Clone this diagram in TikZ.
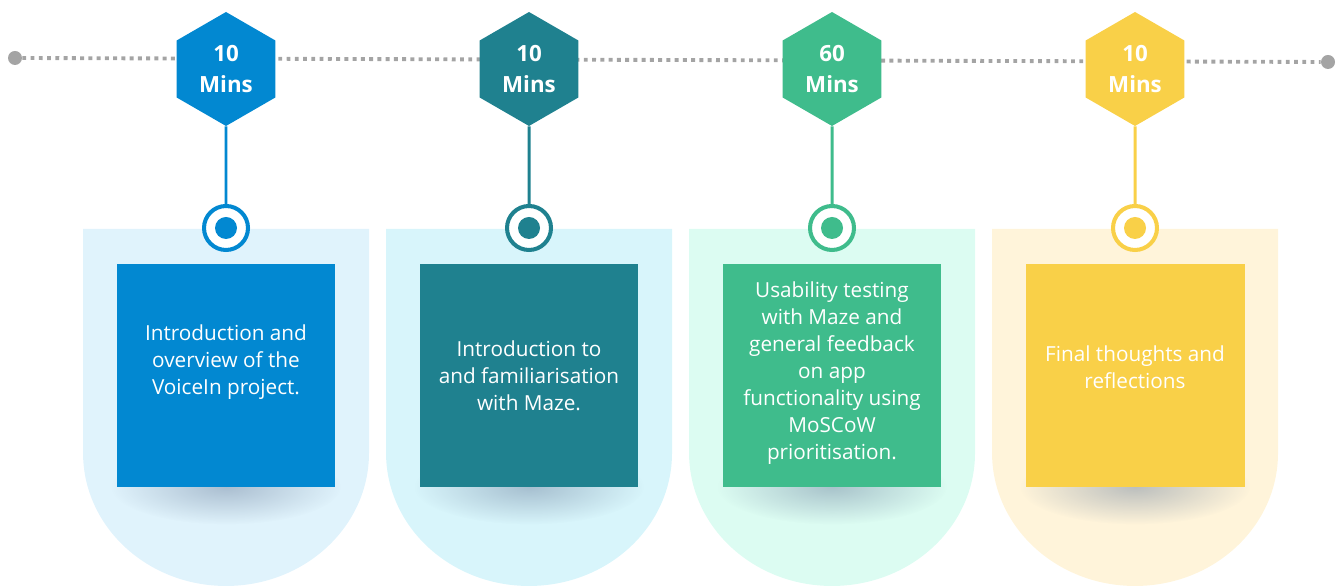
\documentclass[tikz,border=0pt]{standalone}
\usepackage{fontspec}
\setmainfont{Open Sans}
\usetikzlibrary{shapes.geometric,fadings}

\definecolor{blueD}{HTML}{0288D1}
\definecolor{blueL}{HTML}{E0F3FC}
\definecolor{tealD}{HTML}{1F818F}
\definecolor{tealL}{HTML}{D8F5FB}
\definecolor{greenD}{HTML}{3FBC8C}
\definecolor{greenL}{HTML}{DCFCF2}
\definecolor{yellowD}{HTML}{F9D048}
\definecolor{yellowL}{HTML}{FFF4DA}
\definecolor{dotgrey}{HTML}{A4A4A4}
\definecolor{shadowgrey}{HTML}{6A7F9C}

\tikzfading[name=softshadow, inner color=transparent!0, outer color=transparent!100]

\begin{document}
\begin{tikzpicture}[x=0.02cm, y=0.02cm]

% Styles (one unit = one pixel of the sketch)
\tikzstyle{hex} = [regular polygon, regular polygon sides=6, shape border rotate=30, minimum size=2.28cm, inner sep=0pt, text=white, align=center, font=\bfseries\fontsize{12.7}{17.5}\selectfont]
\tikzstyle{ring} = [circle, draw, line width=2.3pt, fill=white, minimum size=0.88cm, inner sep=0pt]
\tikzstyle{dot} = [circle, minimum size=0.44cm, inner sep=0pt]
\tikzstyle{stem} = [line width=1.7pt]
\tikzstyle{box} = [rectangle, minimum width=4.38cm, minimum height=4.46cm, inner sep=0pt]
\tikzstyle{boxtext} = [text=white, align=center, font=\fontsize{11.8}{15.4}\selectfont]
\tikzstyle{shade} = [fill=shadowgrey, opacity=0.45, path fading=softshadow]

\useasboundingbox (0,0) rectangle (1344,587);

% Timeline
\node[circle, fill=dotgrey, minimum size=0.28cm, inner sep=0pt] (start) at (15,529) {};
\node[circle, fill=dotgrey, minimum size=0.28cm, inner sep=0pt] (finish) at (1328,525) {};
\draw[dotgrey, line width=2.2pt, dash pattern=on 2.2pt off 2.5pt] (start) -- (finish);

% Column 1
\fill[blueL] (83,358) -- (369,358) -- (369,134) arc[start angle=0, end angle=-180, x radius=2.86cm, y radius=2.66cm] -- cycle;
\fill[shade] (226,100) ellipse[x radius=2.3cm, y radius=0.75cm];
\node[box, fill=blueD] (box1) at (226,211.5) {};
\node[boxtext] (txt1) at (226,225) {Introduction and\\overview of the\\VoiceIn project.};
\node[hex, fill=blueD] (hex1) at (226,518) {10\\Mins};
\node[ring, draw=blueD] (ring1) at (226,359) {};
\node[dot, fill=blueD] (dot1) at (ring1) {};
\draw[stem, blueD] (hex1) -- (ring1);

% Column 2
\fill[tealL] (386,358) -- (672,358) -- (672,134) arc[start angle=0, end angle=-180, x radius=2.86cm, y radius=2.66cm] -- cycle;
\fill[shade] (529,100) ellipse[x radius=2.3cm, y radius=0.75cm];
\node[box, fill=tealD] (box2) at (529,211.5) {};
\node[boxtext] (txt2) at (529,211) {Introduction to\\and familiarisation\\with Maze.};
\node[hex, fill=tealD] (hex2) at (529,518) {10\\Mins};
\node[ring, draw=tealD] (ring2) at (529,359) {};
\node[dot, fill=tealD] (dot2) at (ring2) {};
\draw[stem, tealD] (hex2) -- (ring2);

% Column 3
\fill[greenL] (689,358) -- (975,358) -- (975,134) arc[start angle=0, end angle=-180, x radius=2.86cm, y radius=2.66cm] -- cycle;
\fill[shade] (832,100) ellipse[x radius=2.3cm, y radius=0.75cm];
\node[box, fill=greenD] (box3) at (832,211.5) {};
\node[boxtext] (txt3) at (832,214) {Usability testing\\with Maze and\\general feedback\\on app\\functionality using\\MoSCoW\\prioritisation.};
\node[hex, fill=greenD] (hex3) at (832,518) {60\\Mins};
\node[ring, draw=greenD] (ring3) at (832,359) {};
\node[dot, fill=greenD] (dot3) at (ring3) {};
\draw[stem, greenD] (hex3) -- (ring3);

% Column 4
\fill[yellowL] (992,358) -- (1278,358) -- (1278,134) arc[start angle=0, end angle=-180, x radius=2.86cm, y radius=2.66cm] -- cycle;
\fill[shade] (1135,100) ellipse[x radius=2.3cm, y radius=0.75cm];
\node[box, fill=yellowD] (box4) at (1135,211.5) {};
\node[boxtext] (txt4) at (1135,220) {Final thoughts and\\reflections};
\node[hex, fill=yellowD] (hex4) at (1135,518) {10\\Mins};
\node[ring, draw=yellowD] (ring4) at (1135,359) {};
\node[dot, fill=yellowD] (dot4) at (ring4) {};
\draw[stem, yellowD] (hex4) -- (ring4);

\end{tikzpicture}
\end{document}
